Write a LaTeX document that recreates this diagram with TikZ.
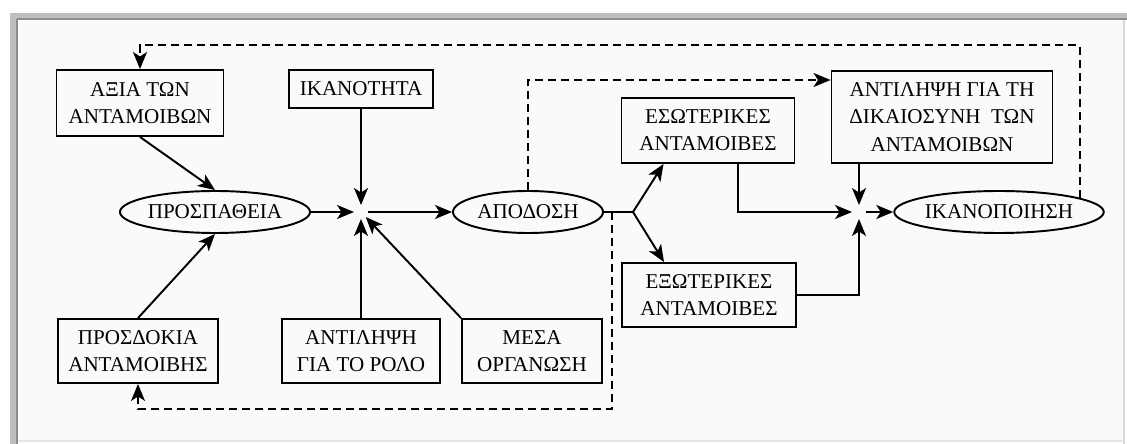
\documentclass[tikz,border=0pt]{standalone}
\usepackage{fontspec}
\setmainfont{Liberation Serif}
\usetikzlibrary{shapes.geometric,arrows.meta}

\begin{document}
\begin{tikzpicture}[x=0.2mm,y=-0.2mm,line width=1.1pt]
% Stile nodi
\tikzstyle{box} = [
    rectangle,
    draw,
    align=center,
    inner sep=0pt,
    font=\fontsize{12}{15.5}\selectfont
]

\tikzstyle{oval} = [
    ellipse,
    draw,
    inner sep=0pt,
    minimum height=8.4mm,
    font=\fontsize{12}{15.5}\selectfont
]

\tikzstyle{junction} = [
    circle,
    inner sep=0pt,
    minimum size=2.4mm
]

\tikzstyle{arr} = [-{Stealth[length=3.4mm,width=2.8mm,inset=0.9mm]}]

\tikzstyle{fb} = [arr, dash pattern=on 1.6mm off 1mm]

% Cornice
\useasboundingbox (0,0) rectangle (1127,444);
\fill[white] (0,0) rectangle (1127,444);
\fill[black!2] (19,20) rectangle (1123,440);
\fill[black!25] (10,13) rectangle (1127,20);
\fill[black!25] (10,13) rectangle (18,444);
\draw[black!45,line width=1pt] (17,19) -- (1127,19);
\draw[black!45,line width=1pt] (17,19) -- (17,444);
\draw[black!15,line width=0.6pt] (1124,20) -- (1124,444);
\draw[black!10,line width=0.6pt] (18,441) -- (1124,441);

% Nodi
\node[box, minimum width=33.4mm, minimum height=13.2mm] (axia) at (140,103)
{ΑΞΙΑ ΤΩΝ\\ΑΝΤΑΜΟΙΒΩΝ};

\node[box, minimum width=28.8mm, minimum height=7.6mm] (ikan) at (361,89)
{ΙΚΑΝΟΤΗΤΑ};

\node[oval, minimum width=35.2mm] (prosp) at (215,212)
{ΠΡΟΣΠΑΘΕΙΑ};

\node[junction] (j1) at (361,212) {};

\node[oval, minimum width=30mm] (apod) at (528,212)
{ΑΠΟΔΟΣΗ};

\coordinate (tap) at (612,212);
\coordinate (br) at (633,212);

\node[box, minimum width=34.6mm, minimum height=13mm] (eso) at (708,130.5)
{ΕΣΩΤΕΡΙΚΕΣ\\ΑΝΤΑΜΟΙΒΕΣ};

\node[box, minimum width=34.8mm, minimum height=12.8mm] (exo) at (709,295)
{ΕΞΩΤΕΡΙΚΕΣ\\ΑΝΤΑΜΟΙΒΕΣ};

\node[box, minimum width=44.2mm, minimum height=18.4mm] (dik) at (942,117)
{ΑΝΤΙΛΗΨΗ ΓΙΑ ΤΗ\\ΔΙΚΑΙΟΣΥΝΗ~~ΤΩΝ\\ΑΝΤΑΜΟΙΒΩΝ};

\node[junction] (j2) at (859,212) {};

\node[oval, minimum width=38.4mm] (ikp) at (999,212)
{ΙΚΑΝΟΠΟΙΗΣΗ};

\node[box, minimum width=32mm, minimum height=12.8mm] (prosd) at (138,351)
{ΠΡΟΣΔΟΚΙΑ\\ΑΝΤΑΜΟΙΒΗΣ};

\node[box, minimum width=31.6mm, minimum height=12.8mm] (rolo) at (361,351)
{ΑΝΤΙΛΗΨΗ\\ΓΙΑ ΤΟ ΡΟΛΟ};

\node[box, minimum width=28mm, minimum height=12.8mm] (mesa) at (532,351)
{ΜΕΣΑ\\ΟΡΓΑΝΩΣΗ};

% Archi
\draw[arr] (axia.south) -- (prosp.north);

\draw[arr] (prosd.north) -- (prosp.south);

\draw[arr] (prosp.east) -- (j1);

\draw[arr] (ikan.south) -- (j1);

\draw[arr] (rolo.north) -- (j1);

\draw[arr] (mesa.north west) -- (j1);

\draw[arr] (j1) -- (apod.west);

\draw (apod.east) -- (br);

\draw[arr] (br) -- ([xshift=8.6mm]eso.south west);

\draw[arr] (br) -- ([xshift=8.6mm]exo.north west);

\draw[arr] ([xshift=6mm]eso.south) |- (j2);

\draw[arr] (exo.east) -| (j2);

\draw[arr] (dik.south -| j2) -- (j2);

\draw[arr] (j2) -- (ikp.west);

% Retroazioni
\draw[fb] (ikp.10) -- (ikp.10 |- 0,45) -| (axia.north);

\draw[fb] (apod.north) |- (dik.west |- 0,80);

\draw[fb] (tap) -- (tap |- 0,409) -| (prosd.south);

\end{tikzpicture}
\end{document}
